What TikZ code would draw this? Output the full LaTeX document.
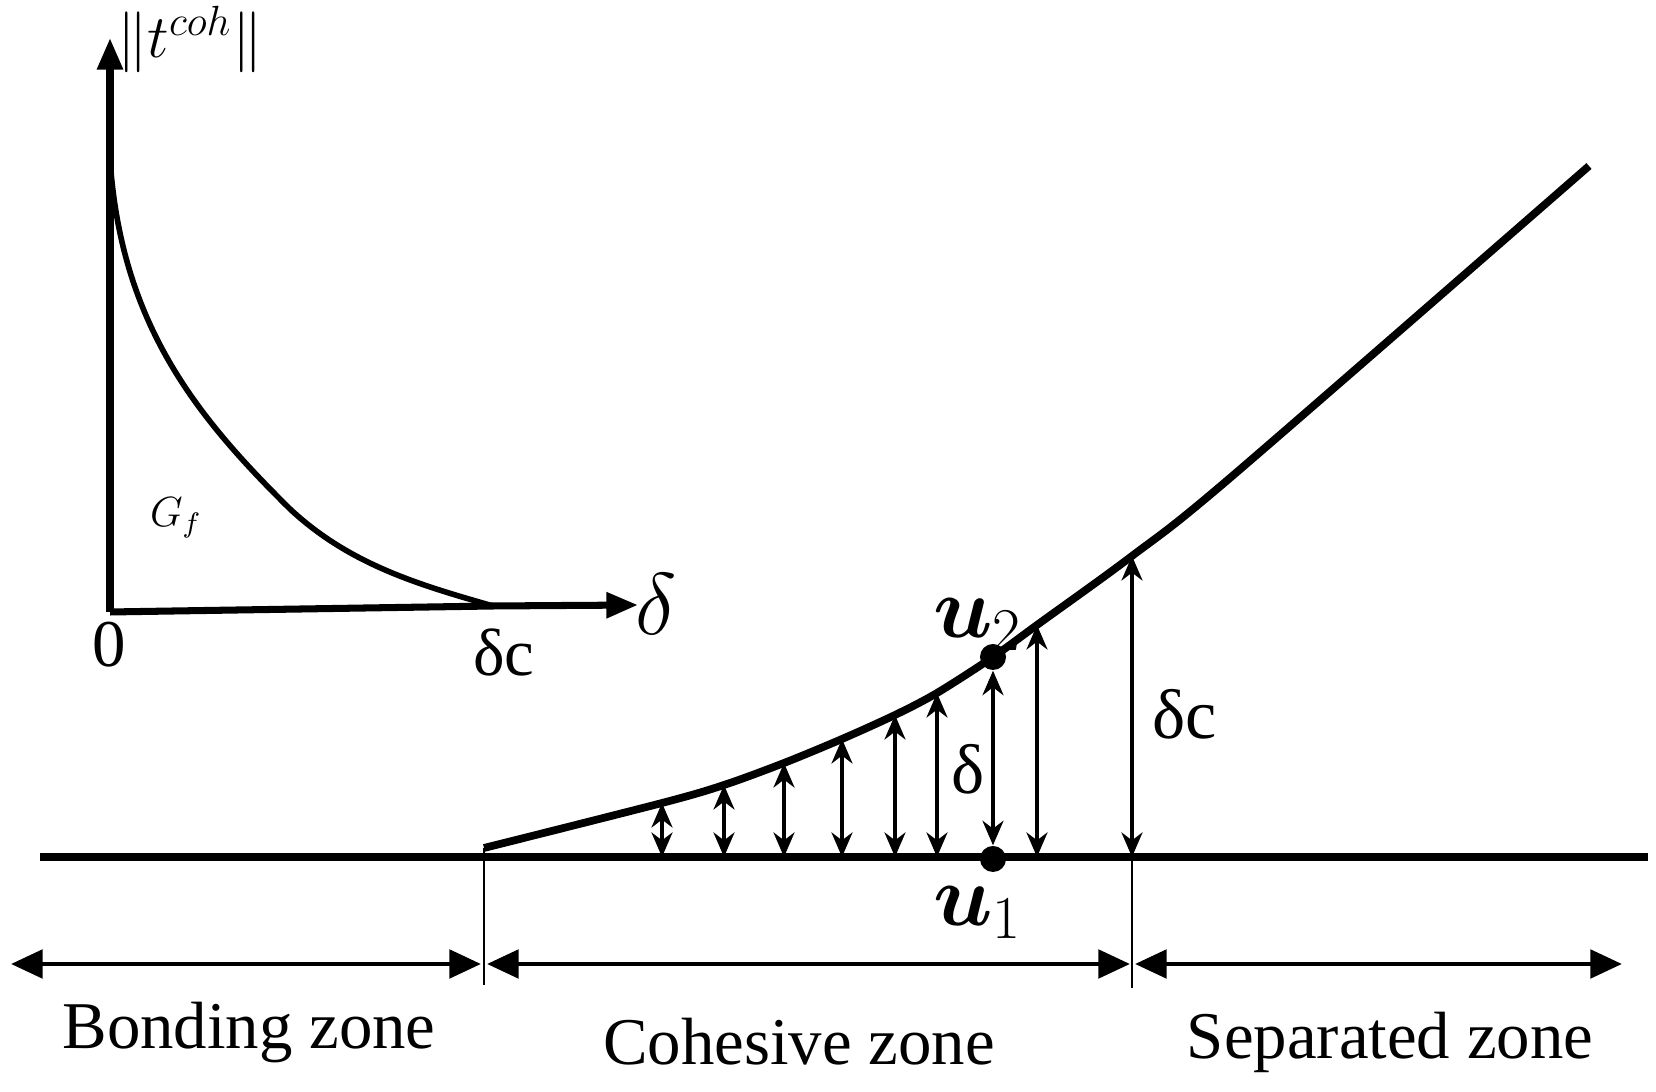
\documentclass[tikz,border=0pt]{standalone}
\usepackage{fontspec}
\setmainfont{Liberation Serif}
\usepackage{amsmath,bm}
\usetikzlibrary{arrows.meta}

\begin{document}
\begin{tikzpicture}[x=0.01cm,y=-0.01cm,
                    every node/.style={inner sep=0pt},
                    crack/.style={line width=2.2pt},
                    tick/.style={line width=0.6pt},
                    axis/.style={line width=2pt,-{Triangle[length=9pt,width=7pt]}},
                    zone/.style={line width=1.4pt,{Triangle[length=9pt,width=8pt]}-{Triangle[length=9pt,width=8pt]}},
                    gap/.style={line width=0.9pt,{Stealth[length=7pt,width=6pt]}-{Stealth[length=7pt,width=6pt]}},
                    dot/.style={circle,fill,minimum size=0.26cm},
                    lbl/.style={font=\fontsize{19}{22}\selectfont}]
    \useasboundingbox (0,0) rectangle (1656,1092);
    % traction-separation law
    \coordinate (O) at (110,612);
    \coordinate (ytop) at (110,38);
    \coordinate (peak) at (111,172);
    \coordinate (dclaw) at (493,606);
    \coordinate (xend) at (638,605);
    \draw[axis] (O) -- (ytop);
    \draw[axis] (O) -- (dclaw) -- (xend);
    \draw[line width=1.6pt] (peak) .. controls (125,330) and (200,420) .. (290,509)
                                   .. controls (350,565) and (420,585) .. (dclaw);
    \node[font=\fontsize{17}{20}\selectfont,anchor=base] (tnorm) at (190,58) {$\|t^{coh}\|$};
    \node[font=\fontsize{12}{14}\selectfont] (gf) at (176,518) {$G_f$};
    \node[lbl] (zero) at (109,645) {0};
    \node[lbl] (dclbl) at (504,652) {δc};
    \node[font=\fontsize{24}{28}\selectfont] (dlbl) at (656,604) {$\delta$};

    % interface and crack
    \coordinate (bl) at (40,857);
    \coordinate (br) at (1648,857);
    \draw[crack] (bl) -- (br);
    \coordinate (tip) at (484,848);
    \draw[crack] plot[smooth,tension=0.5] coordinates
        {(484,848) (662,803) (724,785) (784,763) (842,739) (895,715) (937,693) (993,657)
         (1037,625) (1132,556) (1230,478) (1589,166)};
    \foreach \x/\y in {662/803, 724/785, 784/763, 842/739, 895/715, 937/693, 1037/625} {
        \coordinate (lo\x) at (\x,857);
        \coordinate (up\x) at (\x,\y);
        \draw[gap] (lo\x) -- (up\x);
    }
    \node[dot] (u1) at (993,859) {};
    \node[dot] (u2) at (993,657) {};
    \draw[gap] (u1) -- (u2);
    \node[font=\fontsize{24}{28}\selectfont] (u2lbl) at (978,625) {$\bm{u}_2$};
    \node[font=\fontsize{24}{28}\selectfont] (u1lbl) at (978,913) {$\bm{u}_1$};
    \node[font=\fontsize{20}{24}\selectfont] (dlbl2) at (968,769) {δ};

    % critical opening
    \coordinate (dcb) at (1132,857);
    \coordinate (dct) at (1132,556);
    \draw[gap] (dcb) -- (dct);
    \node[font=\fontsize{20}{24}\selectfont] (dclbl2) at (1185,714) {δc};

    % zones
    \coordinate (t1) at (484,985);
    \coordinate (t2) at (1132,988);
    \draw[tick] (tip) -- (t1);
    \draw[tick] (dcb) -- (t2);
    \coordinate (z0) at (11,964);
    \coordinate (z1) at (481,964);
    \coordinate (z2) at (487,964);
    \coordinate (z3) at (1130,964);
    \coordinate (z4) at (1135,964);
    \coordinate (z5) at (1622,964);
    \draw[zone] (z0) -- (z1);
    \draw[zone] (z2) -- (z3);
    \draw[zone] (z4) -- (z5);
    \node[lbl] (bond) at (249,1033) {Bonding zone};
    \node[lbl] (coh) at (799,1042) {Cohesive zone};
    \node[lbl] (sep) at (1390,1042) {Separated zone};
\end{tikzpicture}
\end{document}
